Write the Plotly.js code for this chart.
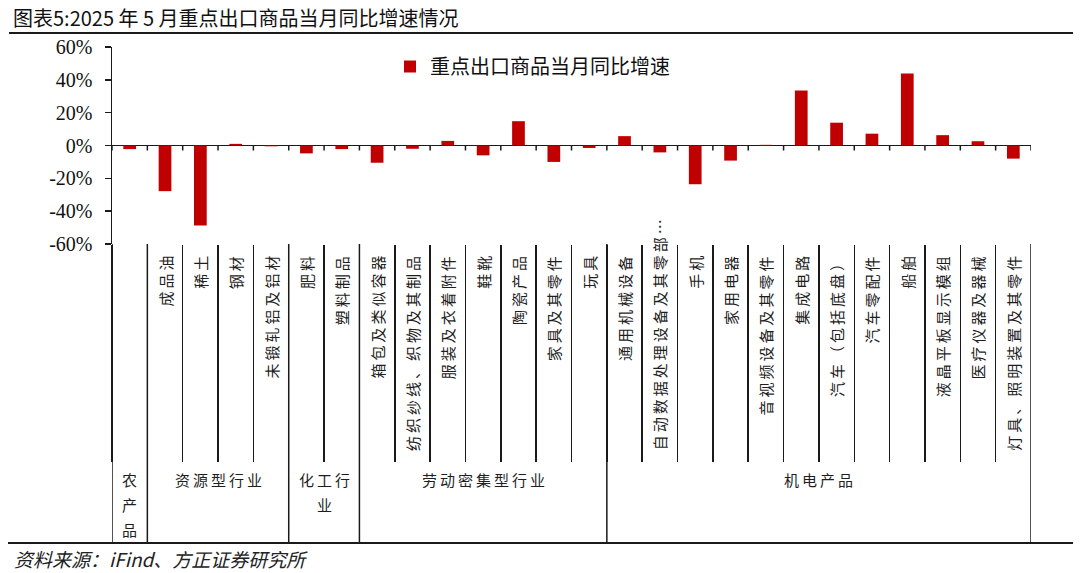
<!DOCTYPE html>
<html>
<head>
<meta charset="utf-8">
<script src="https://cdn.plot.ly/plotly-3.0.1.min.js"></script>
<style>html,body{margin:0;padding:0;background:#fff;}#chart{width:1080px;height:573px;}</style>
</head>
<body>
<div id="chart"></div>
<script>
// ---- data ----
const categories = ['农产品','成品油','稀土','钢材','未锻轧铝及铝材','肥料','塑料制品','箱包及类似容器','纺织纱线、织物及其制品','服装及衣着附件','鞋靴','陶瓷产品','家具及其零件','玩具','通用机械设备','自动数据处理设备及其零部件','手机','家用电器','音视频设备及其零件','集成电路','汽车（包括底盘）','汽车零配件','船舶','液晶平板显示模组','医疗仪器及器械','灯具、照明装置及其零件'];
const tickLabels = ['','成品油','稀土','钢材','未锻轧铝及铝材','肥料','塑料制品','箱包及类似容器','纺织纱线、织物及其制品','服装及衣着附件','鞋靴','陶瓷产品','家具及其零件','玩具','通用机械设备','自动数据处理设备及其零部…','手机','家用电器','音视频设备及其零件','集成电路','汽车（包括底盘）','汽车零配件','船舶','液晶平板显示模组','医疗仪器及器械','灯具、照明装置及其零件'];
const growth = [-2.2,-27.8,-48.7,1.0,-0.5,-4.8,-2.2,-10.5,-2.0,2.8,-6.0,14.8,-10.0,-1.5,5.7,-4.2,-23.6,-9.2,0.4,33.5,13.9,7.2,43.8,6.3,2.6,-8.0];
const groupNames = ['农产品','资源型行业','化工行业','劳动密集型行业','机电产品'];
const groupLines = [['农','产','品'],['资源型行业'],['化工行','业'],['劳动密集型行业'],['机电产品']];
const groupSizes = [1,4,2,7,12];
const yTicks = [-60,-40,-20,0,20,40,60];
const yTickText = yTicks.map(v => v + '%');
const seriesName = '重点出口商品当月同比增速';
const titleText = '图表5:2025 年 5 月重点出口商品当月同比增速情况';
const sourceText = '资料来源：iFind、方正证券研究所';

// ---- helpers ----
const W = 1080, H = 573;
const px = p => p / W;
const py = p => 1 - p / H;
const spaced = s => Array.from(s).join('\u2009');
const CJK = 'Noto Sans CJK SC, Noto Sans, sans-serif';
const SERIF = 'Liberation Serif, Times New Roman, serif';
const INK = '#1a1a1a';

const trace = {
  type: 'bar',
  x: categories,
  y: growth,
  name: seriesName,
  marker: {color: '#C00000', line: {width: 0}},
  width: 0.36,
  hoverinfo: 'x+y'
};

const shapes = [];
const annotations = [];

// ticks on the zero line at every category boundary
for (let k = 0; k <= categories.length; k++) {
  shapes.push({type: 'line', xref: 'x', yref: 'y', ysizemode: 'pixel', yanchor: 0,
    x0: k - 0.5, x1: k - 0.5, y0: 0, y1: -5, line: {color: INK, width: 1.5}});
}
// group boundaries (full height of label area)
let cum = 0;
const bounds = [0];
groupSizes.forEach(s => { cum += s; bounds.push(cum); });
bounds.forEach(b => {
  shapes.push({type: 'line', xref: 'x', yref: 'paper', x0: b - 0.5, x1: b - 0.5,
    y0: py(244), y1: py(543), line: {color: INK, width: 1.5}});
});
// top and bottom rules
shapes.push({type: 'line', xref: 'paper', yref: 'paper', x0: px(9), x1: px(1073), y0: py(33), y1: py(33), line: {color: INK, width: 2.2}});
shapes.push({type: 'line', xref: 'paper', yref: 'paper', x0: px(8), x1: px(1073), y0: py(543), y1: py(543), line: {color: INK, width: 2.2}});

// category labels (rotated, reading bottom-up)
tickLabels.forEach((t, i) => {
  if (!t) return;
  const n = Array.from(t).length;
  const long = n * 18 > 205;
  annotations.push({xref: 'x', yref: 'paper', x: i, y: long ? py(452) : py(254),
    xanchor: 'center', yanchor: long ? 'bottom' : 'top', textangle: -90, showarrow: false,
    text: spaced(t), font: {family: CJK, size: 15, color: '#1e1e1e'}});
});
// group labels
let start = 0;
groupLines.forEach((lines, g) => {
  const center = start + groupSizes[g] / 2 - 0.5;
  lines.forEach((ln, j) => {
    annotations.push({xref: 'x', yref: 'paper', x: center, y: py(479 + 25 * j),
      xanchor: 'center', yanchor: 'middle', showarrow: false,
      text: spaced(ln), font: {family: CJK, size: 15, color: '#1e1e1e'}});
  });
  start += groupSizes[g];
});
// title & source
annotations.push({xref: 'paper', yref: 'paper', x: px(11), y: py(17), xanchor: 'left', yanchor: 'middle',
  showarrow: false, text: titleText, font: {family: CJK, size: 20, color: '#111'}});
annotations.push({xref: 'paper', yref: 'paper', x: px(12), y: py(558), xanchor: 'left', yanchor: 'middle',
  showarrow: false, text: '<i>' + sourceText + '</i>', font: {family: CJK, size: 19, color: '#222'}});

const layout = {
  width: W, height: H,
  margin: {l: 0, r: 0, t: 0, b: 0, pad: 0},
  paper_bgcolor: '#fff', plot_bgcolor: '#fff',
  showlegend: true,
  legend: {x: px(390), y: py(47), xanchor: 'left', yanchor: 'top', bgcolor: 'rgba(0,0,0,0)',
    font: {family: CJK, size: 20, color: '#111'}},
  bargap: 0.64,
  xaxis: {domain: [px(112), px(1031)], type: 'category', categoryarray: categories,
    range: [-0.5, categories.length - 0.5], showticklabels: false, showgrid: false, showline: false,
    zeroline: false, ticks: 'outside', tickson: 'boundaries', ticklen: 217, tickwidth: 1.5, tickcolor: INK},
  yaxis: {domain: [py(244), py(47)], range: [-60, 60], tickmode: 'array', tickvals: yTicks, ticktext: yTickText,
    showgrid: false, showline: true, linecolor: INK, linewidth: 1.5, ticks: 'outside', ticklen: 6,
    tickwidth: 1.5, tickcolor: INK, zeroline: true, zerolinecolor: INK, zerolinewidth: 1.2,
    ticklabelstandoff: 8, layer: 'above traces',
    tickfont: {family: SERIF, size: 20, color: '#111'}},
  shapes: shapes,
  annotations: annotations
};

Plotly.newPlot('chart', [trace], layout, {displayModeBar: false, staticPlot: true});
</script>
</body>
</html>
